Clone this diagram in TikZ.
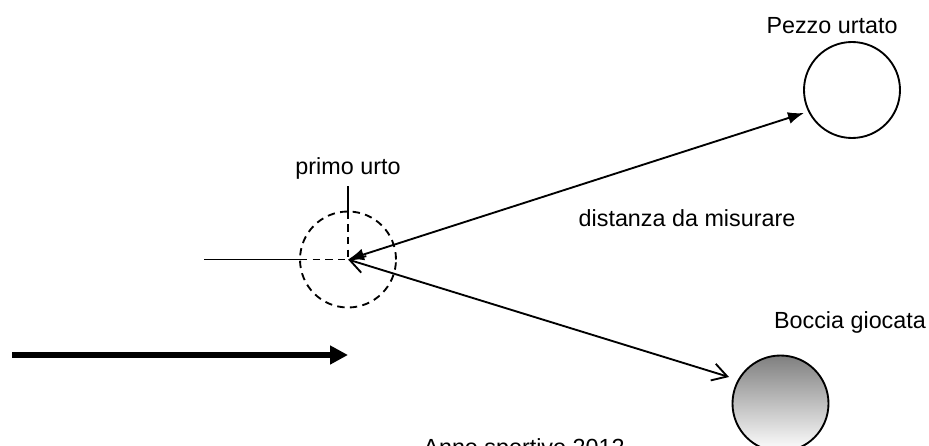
\documentclass[tikz,border=0pt]{standalone}
\usepackage{fontspec}
\setmainfont{Liberation Sans}
\usetikzlibrary{arrows.meta}
\begin{document}
\begin{tikzpicture}[x=0.75pt,y=-0.75pt,
  lbl/.style={font=\fontsize{17.5}{21}\selectfont, inner sep=0pt, anchor=base},
  ball/.style={circle, draw, line width=1.4pt, minimum size=72pt, inner sep=0pt, outer sep=0pt},
  thin/.style={line width=1.4pt},
  dsh/.style={line width=1.4pt, dash pattern=on 5.5pt off 4pt},
  fillarr/.style={thin, {Latex[length=12pt,width=9pt]}-{Latex[length=12pt,width=9pt]}},
  openarr/.style={thin, {Straight Barb[length=11pt,width=13pt]}-{Straight Barb[length=11pt,width=13pt]}}]
\useasboundingbox (0,0) rectangle (929,446);
\fill[white] (0,0) rectangle (929,446);
% balls
\node[ball] (pezzo) at (852,90) {};
\node[ball, top color=black!50, bottom color=white] (boccia) at (780.5,403.5) {};
\node[ball, draw, dsh, fill=none] (urto) at (348,259.5) {};
\coordinate (c) at (348,259.5);
% labels
\node[lbl] (tpezzo) at (832,33) {Pezzo urtato};
\node[lbl] (tboccia) at (850,328) {Boccia giocata};
\node[lbl] (tprimo) at (348,174) {primo urto};
\node[lbl] (tdist) at (687,226) {distanza da misurare};
\node[lbl] (tanno) at (524,455) {Anno sportivo 2012};
% cross marks at impact point
\coordinate (vtop) at (348,186);
\coordinate (hleft) at (204,259.5);
\draw[thin] (vtop) -- (urto.north);
\draw[dsh] (urto.north) -- (c);
\draw[thin] (hleft) -- (urto.west);
\draw[dsh] (urto.west) -- (c);
% measurement arrows
\coordinate (tipP) at (804,113);
\coordinate (tipB) at (729,377);
\draw[fillarr] (c) -- (tipP);
\draw[openarr] (c) -- (tipB);
% direction arrow
\coordinate (dstart) at (12,355);
\coordinate (dend) at (348,355);
\draw[line width=4.5pt, -{Triangle[length=13.5pt,width=13.5pt]}] (dstart) -- (dend);
\end{tikzpicture}
\end{document}
